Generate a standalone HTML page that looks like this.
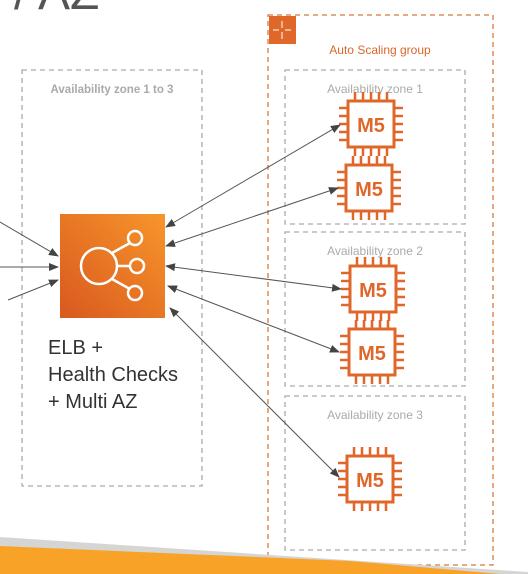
<!DOCTYPE html>
<html><head><style>
html,body{margin:0;padding:0;background:#fff;}
body{width:528px;height:574px;overflow:hidden;position:relative;font-family:"Liberation Sans",sans-serif;}
</style></head><body>
<svg width="528" height="574" viewBox="0 0 528 574" xmlns="http://www.w3.org/2000/svg" style="position:absolute;left:0;top:0">
<defs>
<marker id="ah" markerWidth="10" markerHeight="8" refX="9" refY="4" orient="auto-start-reverse" markerUnits="userSpaceOnUse">
<path d="M0,0 L10,4 L0,8 z" fill="#444"/></marker>
<linearGradient id="og" x1="0" y1="1" x2="1" y2="0">
<stop offset="0" stop-color="#D9581F"/><stop offset="1" stop-color="#F7962A"/></linearGradient>
<g id="chip">
<rect x="-23" y="-23" width="46" height="46" fill="#fff" stroke="#E0672A" stroke-width="3"/>
<g stroke="#E0672A" stroke-width="2.5">
<path d="M-16,-24v-8M-8,-24v-8M0,-24v-8M8,-24v-8M16,-24v-8"/>
<path d="M-16,24v8M-8,24v8M0,24v8M8,24v8M16,24v8"/>
<path d="M-24,-16h-8M-24,-8h-8M-24,0h-8M-24,8h-8M-24,16h-8"/>
<path d="M24,-16h8M24,-8h8M24,0h8M24,8h8M24,16h8"/>
</g>
<text x="0" y="8" text-anchor="middle" font-family="Liberation Sans, sans-serif" font-weight="bold" font-size="20" fill="#E0672A">M5</text>
</g>
</defs>
<text x="14" y="9" font-size="48" fill="#555" font-family="Liberation Sans, sans-serif">/ AZ</text>
<rect x="22" y="70" width="180" height="416" fill="none" stroke="#aaa" stroke-width="1.3" stroke-dasharray="5,4"/>
<text x="112" y="93" text-anchor="middle" font-size="11.5" font-weight="bold" fill="#aaa">Availability zone 1 to 3</text>
<rect x="60" y="214" width="105" height="104" fill="url(#og)"/>
<g stroke="#fff" stroke-width="2.5" fill="none">
<circle cx="99" cy="266" r="18"/>
<circle cx="135" cy="238" r="7"/><circle cx="137" cy="266" r="7"/><circle cx="135" cy="293" r="7"/>
<path d="M112,253 L130,243 M117,266 L130,266 M112,279 L130,289"/>
</g>
<text font-size="20" fill="#333" font-family="Liberation Sans, sans-serif"><tspan x="48" y="354">ELB +</tspan><tspan x="48" y="381">Health Checks</tspan><tspan x="48" y="408">+ Multi AZ</tspan></text>
<rect x="268" y="15" width="225" height="550" fill="none" stroke="#D9783A" stroke-width="1.3" stroke-dasharray="5,4"/>
<rect x="269" y="16" width="27" height="28" fill="#E0672A"/>
<g stroke="#fff" stroke-width="1"><path d="M282,21v7M282,32v7M273,30h6M285,30h6"/></g>
<text x="380" y="54" text-anchor="middle" font-size="12" fill="#D9672A">Auto Scaling group</text>
<g fill="none" stroke="#aaa" stroke-width="1.3" stroke-dasharray="5,4">
<rect x="285" y="70" width="180" height="154"/>
<rect x="285" y="232" width="180" height="154"/>
<rect x="285" y="396" width="180" height="154"/>
</g>
<g font-size="12" fill="#aaa" text-anchor="middle">
<text x="375" y="93">Availability zone 1</text>
<text x="375" y="255">Availability zone 2</text>
<text x="375" y="419">Availability zone 3</text>
</g>
<use href="#chip" x="371" y="124"/>
<use href="#chip" x="369" y="188"/>
<use href="#chip" x="373" y="289"/>
<use href="#chip" x="372" y="352"/>
<use href="#chip" x="370" y="479"/>
<g stroke="#555" stroke-width="1" fill="none">
<path d="M0,222 L58,256" marker-end="url(#ah)"/>
<path d="M0,267 L58,267" marker-end="url(#ah)"/>
<path d="M8,300 L58,280" marker-end="url(#ah)"/>
<path d="M166,227 L340,125" marker-start="url(#ah)" marker-end="url(#ah)"/>
<path d="M166,246 L338,188" marker-start="url(#ah)" marker-end="url(#ah)"/>
<path d="M166,266 L341,289" marker-start="url(#ah)" marker-end="url(#ah)"/>
<path d="M168,286 L339,352" marker-start="url(#ah)" marker-end="url(#ah)"/>
<path d="M170,308 L339,477" marker-start="url(#ah)" marker-end="url(#ah)"/>
</g>
<polygon points="0,537 528,572 528,574 0,574" fill="#D5D5D3"/>
<polygon points="0,546 350,561 500,574 0,574" fill="#F9A228"/>
</svg>
</body></html>
